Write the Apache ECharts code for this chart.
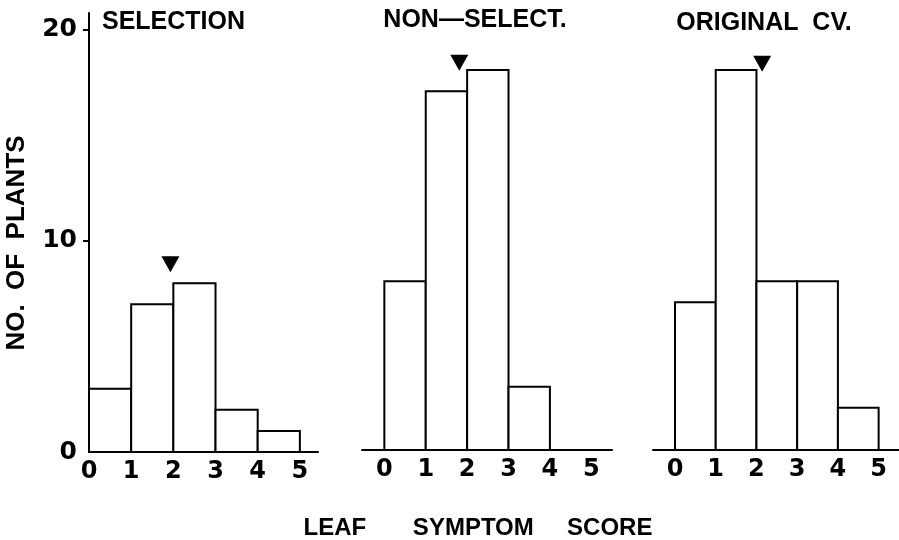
<!DOCTYPE html>
<html>
<head>
<meta charset="utf-8">
<script src="https://cdn.jsdelivr.net/npm/echarts@6/dist/echarts.min.js"></script>
<style>html,body{margin:0;padding:0;background:#fff;}#c{width:899px;height:540px;}</style>
</head>
<body>
<div id="c"></div>
<script>
// ---- data ----
const binStarts = [0, 1, 2, 3, 4];
const xTickLabels = [0, 1, 2, 3, 4, 5];
const yTickLabels = [0, 10, 20];
const panelTitles = ['SELECTION', 'NON\u2014SELECT.', 'ORIGINAL  CV.'];
const selectionCounts = [3, 7, 8, 2, 1];
const nonSelectCounts = [8, 17, 18, 3, 0];
const originalCvCounts = [7, 18, 8, 8, 2];
const markerX = [1.93, 1.81, 2.14];
const markerY = [8.9, 18.35, 18.3];
const yAxisTitle = 'NO.  OF  PLANTS';
const xAxisTitle = 'LEAF       SYMPTOM     SCORE';

const panels = [selectionCounts, nonSelectCounts, originalCvCounts];

const chart = echarts.init(document.getElementById('c'), null, {renderer: 'canvas'});

const grids = [
  {left: 89, top: 13, width: 229, height: 439},
  {left: 362, top: 11, width: 250, height: 439},
  {left: 653, top: 11, width: 246, height: 439}
].map(g => Object.assign({outerBoundsMode: 'none', containLabel: false}, g));

const xRanges = [[0, 5.43], [-0.54, 5.5], [-0.54, 5.5]];

const digitFont = '"DejaVu Sans"';
const textFont = '"Liberation Sans", Arial, Helvetica, sans-serif';

const xAxes = xRanges.map((r, i) => ({
  type: 'value', gridIndex: i, min: r[0], max: r[1], interval: 1,
  splitLine: {show: false},
  axisTick: {show: false},
  axisLine: {show: true, onZero: false, lineStyle: {color: '#000', width: 2}},
  axisLabel: {
    customValues: xTickLabels,
    formatter: v => (Number.isInteger(v) && v >= 0 && v <= 5) ? String(v) : '',
    color: '#000', fontFamily: digitFont, fontWeight: 'bold', fontSize: 24, margin: 8
  }
}));

const yAxes = [0, 1, 2].map(i => ({
  type: 'value', gridIndex: i, min: 0, max: 20.8, interval: 10,
  show: i === 0,
  splitLine: {show: false},
  axisLine: {show: i === 0, lineStyle: {color: '#000', width: 2}},
  axisTick: {show: i === 0, customValues: [10, 20], length: 6, lineStyle: {color: '#000', width: 2}},
  axisLabel: {
    show: i === 0,
    customValues: yTickLabels,
    formatter: v => (yTickLabels.indexOf(v) >= 0) ? String(v) : '',
    color: '#000', fontFamily: digitFont, fontWeight: 'bold', fontSize: 25, margin: 12
  }
}));

function renderBar(params, api) {
  const x0 = api.value(0), v = api.value(1);
  if (!v) return null;
  const p0 = api.coord([x0, 0]);
  const p1 = api.coord([x0 + 1, v]);
  return {
    type: 'rect',
    shape: {x: p0[0], y: p1[1], width: p1[0] - p0[0], height: p0[1] - p1[1]},
    style: {fill: '#fff', stroke: '#000', lineWidth: 2}
  };
}

const series = [];
panels.forEach((vals, i) => {
  series.push({
    type: 'custom', xAxisIndex: i, yAxisIndex: i,
    renderItem: renderBar,
    data: binStarts.map((s, k) => [s, vals[k]]),
    silent: true, z: 2
  });
  series.push({
    type: 'scatter', xAxisIndex: i, yAxisIndex: i,
    symbol: 'triangle', symbolRotate: 180, symbolSize: [18, 16],
    itemStyle: {color: '#000', opacity: 1},
    data: [[markerX[i], markerY[i]]],
    silent: true, z: 3
  });
});

const titleX = [{x: 102, align: 'left', y: 22}, {x: 475, align: 'center', y: 20}, {x: 764, align: 'center', y: 23}];

const graphic = panelTitles.map((t, i) => ({
  type: 'text', x: titleX[i].x, y: titleX[i].y, silent: true,
  style: {text: t, fill: '#000', font: 'bold 25px ' + textFont, textAlign: titleX[i].align, textVerticalAlign: 'middle'}
}));
graphic.push({
  type: 'text', x: 17, y: 243, rotation: Math.PI / 2, silent: true,
  style: {text: yAxisTitle, fill: '#000', font: 'bold 26px ' + textFont, textAlign: 'center', textVerticalAlign: 'middle'}
});
graphic.push({
  type: 'text', x: 478, y: 528, silent: true,
  style: {text: xAxisTitle, fill: '#000', font: 'bold 24px ' + textFont, textAlign: 'center', textVerticalAlign: 'middle'}
});

chart.setOption({
  animation: false,
  backgroundColor: '#fff',
  grid: grids,
  xAxis: xAxes,
  yAxis: yAxes,
  series: series,
  graphic: graphic
});
</script>
</body>
</html>
